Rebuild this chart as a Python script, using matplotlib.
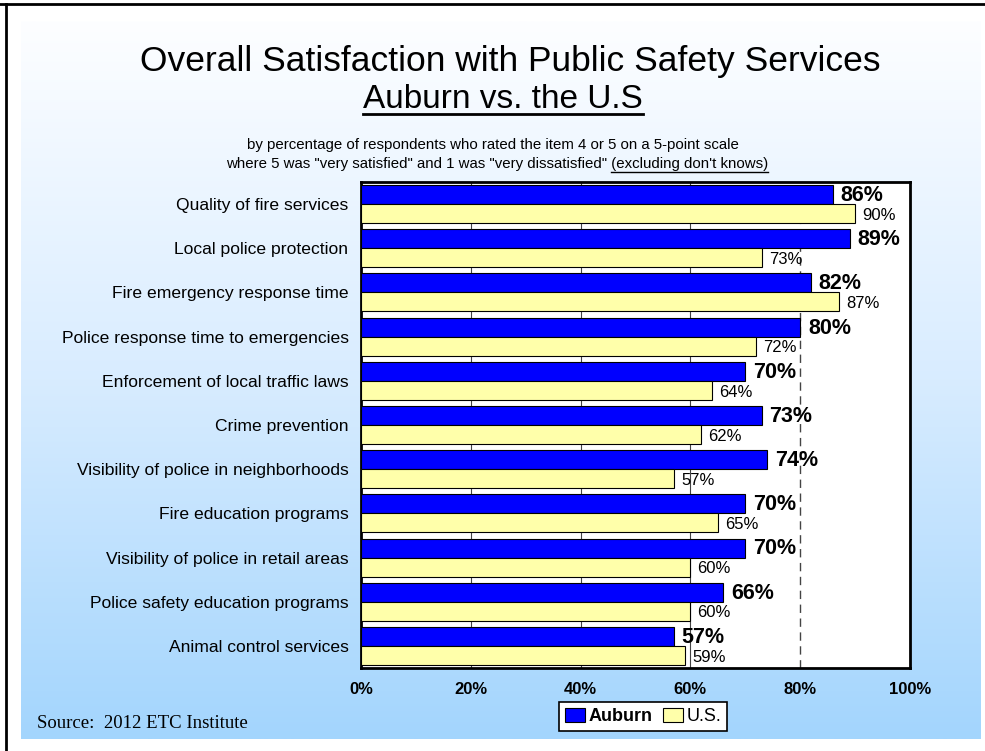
import matplotlib
matplotlib.use("Agg")
import matplotlib.pyplot as plt
import numpy as np
from matplotlib.colors import LinearSegmentedColormap
from matplotlib.patches import Patch

categories = [
    "Quality of fire services",
    "Local police protection",
    "Fire emergency response time",
    "Police response time to emergencies",
    "Enforcement of local traffic laws",
    "Crime prevention",
    "Visibility of police in neighborhoods",
    "Fire education programs",
    "Visibility of police in retail areas",
    "Police safety education programs",
    "Animal control services",
]
auburn = [86, 89, 82, 80, 70, 73, 74, 70, 70, 66, 57]
us = [90, 73, 87, 72, 64, 62, 57, 65, 60, 60, 59]
xticks = [0, 20, 40, 60, 80, 100]
xtick_labels = ["0%", "20%", "40%", "60%", "80%", "100%"]

W, H = 985, 751
plt.rcParams["font.family"] = ["Liberation Sans", "DejaVu Sans"]
fig = plt.figure(figsize=(W / 100, H / 100), dpi=100)
fig.patch.set_facecolor("white")

# background layer in pixel coordinates
bg = fig.add_axes([0, 0, 1, 1], zorder=0)
bg.set_xlim(0, W)
bg.set_ylim(H, 0)
bg.axis("off")
grad_cmap = LinearSegmentedColormap.from_list("bgblue", ["#FDFEFF", "#D8ECFF", "#A3D5FD"])
grad = np.linspace(0, 1, 256).reshape(-1, 1)
bg.imshow(grad, cmap=grad_cmap, aspect="auto", extent=(21, 981, 739, 21), zorder=0)
bg.plot([0, W], [4, 4], color="black", lw=2, zorder=1)
bg.plot([6, 6], [4, H], color="black", lw=2, zorder=1)

title = bg.text(510, 62, "Overall Satisfaction with Public Safety Services",
                ha="center", va="center", fontsize=25.5)
sub = bg.text(503, 99, "Auburn vs. the U.S", ha="center", va="center", fontsize=24)
bg.text(493, 145, "by percentage of respondents who rated the item 4 or 5 on a 5-point scale",
        ha="center", va="center", fontsize=10.8)
line2_a = "where 5 was \"very satisfied\" and 1 was \"very dissatisfied\" "
line2_b = "(excluding don't knows)"
line2 = bg.text(497, 164, line2_a + line2_b, ha="center", va="center", fontsize=10.8)
bg.text(37, 724, "Source:  2012 ETC Institute", ha="left", va="center",
        fontsize=13.5, family=["Liberation Serif", "DejaVu Serif"])

# main chart
ax = fig.add_axes([361 / W, 1 - 668 / H, 549 / W, 486 / H], zorder=1)
ax.set_facecolor("white")
y = np.arange(len(categories))
h = 0.43
ax.barh(y - h / 2, auburn, height=h, color="#0000FF", edgecolor="black", lw=0.8, zorder=3)
ax.barh(y + h / 2, us, height=h, color="#FFFFAA", edgecolor="black", lw=0.8, zorder=3)
for gx in [20, 40, 60]:
    ax.axvline(gx, color="#444444", lw=0.8, zorder=1)
ax.axvline(80, color="#444444", lw=1.0, ls=(0, (6, 4)), zorder=1)

for i, (a, u) in enumerate(zip(auburn, us)):
    ax.text(a + 1.4, i - h / 2 + 0.02, f"{a}%", ha="left", va="center",
            fontsize=15.5, fontweight="bold", zorder=4)
    ax.text(u + 1.3, i + h / 2 + 0.04, f"{u}%", ha="left", va="center",
            fontsize=12, zorder=4)

ax.set_xlim(0, 100)
ax.set_ylim(len(categories) - 0.5, -0.5)
ax.set_xticks(xticks)
ax.set_xticklabels(xtick_labels, fontsize=12, fontweight="bold")
ax.set_yticks(y)
ax.set_yticklabels(categories, fontsize=12.6)
ax.tick_params(axis="both", length=0)
ax.tick_params(axis="x", pad=10)
ax.tick_params(axis="y", pad=9)
for s in ax.spines.values():
    s.set_linewidth(2)
    s.set_color("black")

handles = [Patch(facecolor="#0000FF", edgecolor="black", lw=0.8),
           Patch(facecolor="#FFFFAA", edgecolor="black", lw=0.8)]
leg = fig.legend(handles, ["Auburn", "U.S."], loc="center",
                 bbox_to_anchor=(643 / W, 1 - 716.5 / H), ncol=2, fontsize=13,
                 fancybox=False, framealpha=1, edgecolor="black",
                 handlelength=1.1, handleheight=0.8, handletextpad=0.2,
                 columnspacing=0.6, borderpad=0.3)
leg.get_frame().set_linewidth(1.2)
leg.get_texts()[0].set_fontweight("bold")

# underlines
fig.canvas.draw()
r = fig.canvas.get_renderer()
inv = bg.transData.inverted()

bb = sub.get_window_extent(r)
(x0, y0), (x1, _) = inv.transform([(bb.x0, bb.y0), (bb.x1, bb.y0)])
bg.plot([x0, x1], [y0 - 1, y0 - 1], color="black", lw=2)

bb = line2.get_window_extent(r)
tmp = bg.text(0, 0, line2_a, fontsize=10.8)
wa = tmp.get_window_extent(r).width
tmp.remove()
(x0, y0), (x1, _) = inv.transform([(bb.x0 + wa, bb.y0), (bb.x1, bb.y0)])
bg.plot([x0, x1], [y0 + 1, y0 + 1], color="black", lw=1)

fig.savefig("out.png", dpi=100)
